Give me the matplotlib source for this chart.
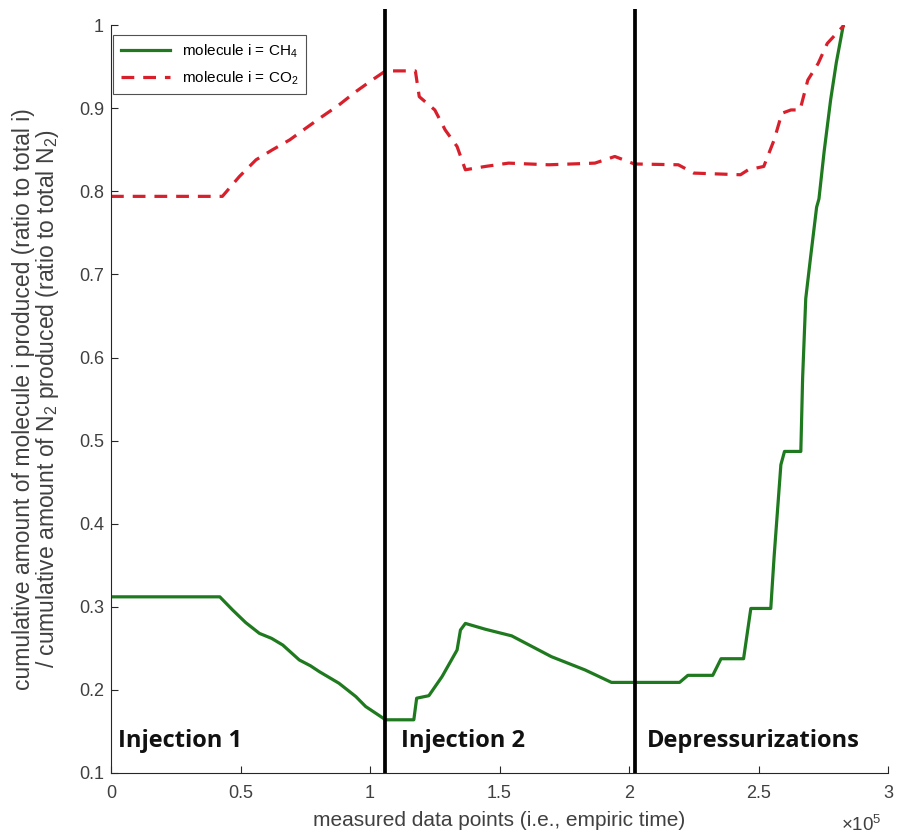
import matplotlib
matplotlib.use('Agg')
import matplotlib.pyplot as plt
import numpy as np

plt.rcParams['font.family'] = ['Liberation Sans', 'DejaVu Sans']
plt.rcParams['mathtext.default'] = 'regular'

# x values in units of 1e5 data points
ch4_x = [0, 0.42, 0.47, 0.52, 0.573, 0.62, 0.663, 0.727, 0.77, 0.804, 0.88, 0.945,
         0.983, 1.06, 1.169, 1.18, 1.227, 1.278, 1.336, 1.349, 1.368, 1.445, 1.547,
         1.70, 1.83, 1.932, 2.02, 2.195, 2.227, 2.323, 2.355, 2.442, 2.47, 2.547,
         2.56, 2.586, 2.6, 2.663, 2.67, 2.682, 2.70, 2.724, 2.733, 2.753, 2.778,
         2.80, 2.827]
ch4_y = [0.312, 0.312, 0.296, 0.281, 0.268, 0.262, 0.254, 0.236, 0.229, 0.222, 0.208,
         0.192, 0.180, 0.164, 0.164, 0.190, 0.193, 0.216, 0.248, 0.272, 0.280, 0.273,
         0.265, 0.240, 0.224, 0.209, 0.209, 0.209, 0.2175, 0.2175, 0.2375, 0.2375,
         0.298, 0.298, 0.361, 0.471, 0.487, 0.487, 0.576, 0.671, 0.719, 0.781, 0.791,
         0.848, 0.91, 0.955, 1.0]

co2_x = [0, 0.43, 0.496, 0.56, 0.623, 0.69, 0.752, 0.815, 0.88, 0.945, 1.008, 1.06,
         1.175, 1.19, 1.25, 1.29, 1.336, 1.368, 1.445, 1.535, 1.69, 1.868, 1.945,
         2.02, 2.19, 2.25, 2.43, 2.46, 2.52, 2.56, 2.59, 2.625, 2.66, 2.69, 2.73,
         2.765, 2.83]
co2_y = [0.794, 0.794, 0.818, 0.838, 0.850, 0.862, 0.876, 0.890, 0.904, 0.920, 0.934,
         0.945, 0.945, 0.914, 0.898, 0.874, 0.854, 0.826, 0.830, 0.834, 0.832, 0.834,
         0.842, 0.833, 0.832, 0.822, 0.820, 0.826, 0.830, 0.862, 0.894, 0.898, 0.898,
         0.934, 0.954, 0.978, 1.0]

phase_bounds = [1.058, 2.023]
phase_names = ['Injection 1', 'Injection 2', 'Depressurizations']
phase_text_x = [0.027, 1.12, 2.07]

x_ticks = [0, 0.5, 1, 1.5, 2, 2.5, 3]
y_ticks = [0.1, 0.2, 0.3, 0.4, 0.5, 0.6, 0.7, 0.8, 0.9, 1]

scale = 1e5

fig = plt.figure(figsize=(8.98, 8.4), dpi=100)
ax = fig.add_axes([0.1236, 0.0798, 0.8654, 0.8902])

ax.plot(np.array(ch4_x) * scale, ch4_y, color='#1f7a1f', lw=2.3,
        label='molecule i = CH$_4$')
ax.plot(np.array(co2_x) * scale, co2_y, color='#d7202b', lw=2.3,
        dashes=(4, 2.8), label='molecule i = CO$_2$')

for xb in phase_bounds:
    ax.plot([xb * scale, xb * scale], [0.1, 1.02], color='black', lw=2.7,
            clip_on=False, solid_capstyle='butt')

for name, tx in zip(phase_names, phase_text_x):
    ax.text(tx * scale, 0.138, name, fontsize=17, fontweight='bold',
            family=['Open Sans', 'DejaVu Sans'], color='#111111', va='center')

ax.set_xlim(0, 3 * scale)
ax.set_ylim(0.1, 1)
ax.set_xticks([t * scale for t in x_ticks])
ax.set_xticklabels([('%g' % t) for t in x_ticks])
ax.set_yticks(y_ticks)
ax.set_yticklabels([('%g' % t) for t in y_ticks])

for side in ['top', 'right']:
    ax.spines[side].set_visible(False)
for side in ['left', 'bottom']:
    ax.spines[side].set_color('#262626')
    ax.spines[side].set_linewidth(0.8)
ax.tick_params(direction='in', length=5, width=0.8, colors='#262626',
               labelcolor='#404040', labelsize=13)
ax.tick_params(axis='x', pad=9)
ax.tick_params(axis='y', pad=5)

ax.set_xlabel('measured data points (i.e., empiric time)', fontsize=15,
              color='#404040', labelpad=6)
ax.set_ylabel('cumulative amount of molecule i produced (ratio to total i)\n'
              '/ cumulative amount of N$_2$ produced (ratio to total N$_2$)',
              fontsize=16.5, color='#404040', labelpad=13, linespacing=0.95)
ax.text(0.992, -0.07, r'$\times10^5$', transform=ax.transAxes, fontsize=13.5,
        color='#404040', ha='right', va='center')

leg = ax.legend(loc='upper left', bbox_to_anchor=(0.0, 0.99), fontsize=11,
                frameon=True, fancybox=False, edgecolor='#262626',
                handlelength=3.2, borderpad=0.5, labelspacing=0.6,
                borderaxespad=0.15)
leg.get_frame().set_linewidth(0.8)

fig.savefig('out.png', dpi=100)
